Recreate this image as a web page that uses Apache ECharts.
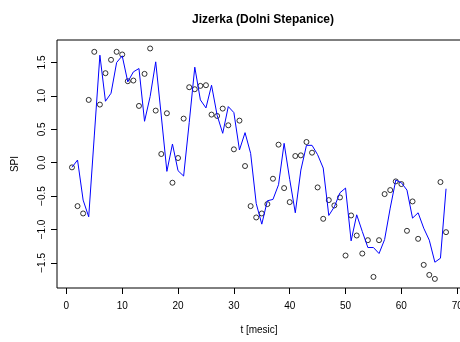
<!DOCTYPE html>
<html>
<head>
<meta charset="utf-8">
<script src="https://cdn.jsdelivr.net/npm/echarts@6/dist/echarts.min.js"></script>
<style>
  html, body { margin: 0; padding: 0; background: #fff; }
  #main { width: 460px; height: 342px; }
</style>
</head>
<body>
<div id="main"></div>
<script>
(function () {
  var chart = echarts.init(document.getElementById('main'));

  // SPI values, one per month (t = 1..68)
  var spiPoints = [
    -0.07, -0.65, -0.76, 0.94, 1.66, 0.87, 1.34, 1.54, 1.66, 1.62,
    1.22, 1.23, 0.85, 1.33, 1.71, 0.78, 0.13, 0.74, -0.30, 0.07,
    0.66, 1.13, 1.10, 1.15, 1.16, 0.72, 0.70, 0.81, 0.56, 0.20,
    0.63, -0.05, -0.65, -0.82, -0.76, -0.62, -0.24, 0.27, -0.38, -0.59,
    0.10, 0.11, 0.31, 0.15, -0.37, -0.84, -0.56, -0.64, -0.52, -1.39,
    -0.79, -1.09, -1.36, -1.16, -1.71, -1.16, -0.47, -0.41, -0.28, -0.32,
    -1.02, -0.58, -1.14, -1.53, -1.68, -1.74, -0.29, -1.04
  ];
  // fitted / model line (blue)
  var spiLine = [
    -0.07, 0.04, -0.56, -0.81, 0.40, 1.61, 0.92, 1.04, 1.50, 1.60,
    1.21, 1.36, 1.41, 0.62, 0.99, 1.51, 0.70, -0.13, 0.28, -0.12,
    -0.20, 0.60, 1.43, 0.94, 0.82, 1.16, 0.71, 0.44, 0.84, 0.75,
    0.19, 0.45, 0.14, -0.61, -0.92, -0.57, -0.55, -0.33, 0.29, -0.25,
    -0.75, -0.11, 0.26, 0.26, 0.12, -0.08, -0.79, -0.66, -0.45, -0.38,
    -1.17, -0.78, -1.03, -1.27, -1.27, -1.36, -1.15, -0.68, -0.26, -0.30,
    -0.41, -0.83, -0.75, -0.98, -1.16, -1.49, -1.43, -0.39
  ];
  var xTicks = [0, 10, 20, 30, 40, 50, 60, 70];
  var yTicks = [-1.5, -1.0, -0.5, 0.0, 0.5, 1.0, 1.5];

  function toPairs(arr) {
    return arr.map(function (v, i) { return [i + 1, v]; });
  }
  function fmtY(v) {
    return Number(v).toFixed(1).replace('-', '\u2212');
  }

  var font = 'Liberation Sans, Arial, sans-serif';

  var option = {
    animation: false,
    title: {
      text: 'Jizerka (Dolni Stepanice)',
      left: 258, top: 9, textAlign: 'center',
      textStyle: { fontFamily: font, fontSize: 12, fontWeight: 'bold', color: '#000' }
    },
    grid: {
      left: 57, right: -1, top: 40, bottom: 54,
      outerBoundsMode: 'none',
      show: true, borderColor: '#000', borderWidth: 1
    },
    xAxis: {
      type: 'value', min: -1.68, max: 70.68,
      name: 't [mesic]', nameLocation: 'middle', nameGap: 37,
      nameTextStyle: { fontFamily: font, fontSize: 10, color: '#000' },
      axisLine: { show: false, onZero: false },
      axisTick: { show: true, length: 6, customValues: xTicks, lineStyle: { color: '#000' } },
      axisLabel: { customValues: xTicks, margin: 13, fontFamily: font, fontSize: 10, color: '#000' },
      splitLine: { show: false }
    },
    yAxis: {
      type: 'value', min: -1.876, max: 1.837,
      name: 'SPI', nameLocation: 'middle', nameGap: 37,
      nameTextStyle: { fontFamily: font, fontSize: 10, color: '#000' },
      axisLine: { show: false, onZero: false },
      axisTick: { show: true, length: 6, customValues: yTicks, lineStyle: { color: '#000' } },
      axisLabel: {
        customValues: yTicks, rotate: 90, margin: 10,
        fontFamily: font, fontSize: 10, color: '#000', formatter: fmtY
      },
      splitLine: { show: false }
    },
    series: [
      {
        type: 'scatter',
        data: toPairs(spiPoints),
        symbol: 'circle', symbolSize: 5,
        itemStyle: { color: 'rgba(0,0,0,0)', borderColor: '#000', borderWidth: 1 }
      },
      {
        type: 'line',
        data: toPairs(spiLine),
        showSymbol: false,
        lineStyle: { color: '#0000ff', width: 1 }
      }
    ]
  };

  chart.setOption(option);
})();
</script>
</body>
</html>
